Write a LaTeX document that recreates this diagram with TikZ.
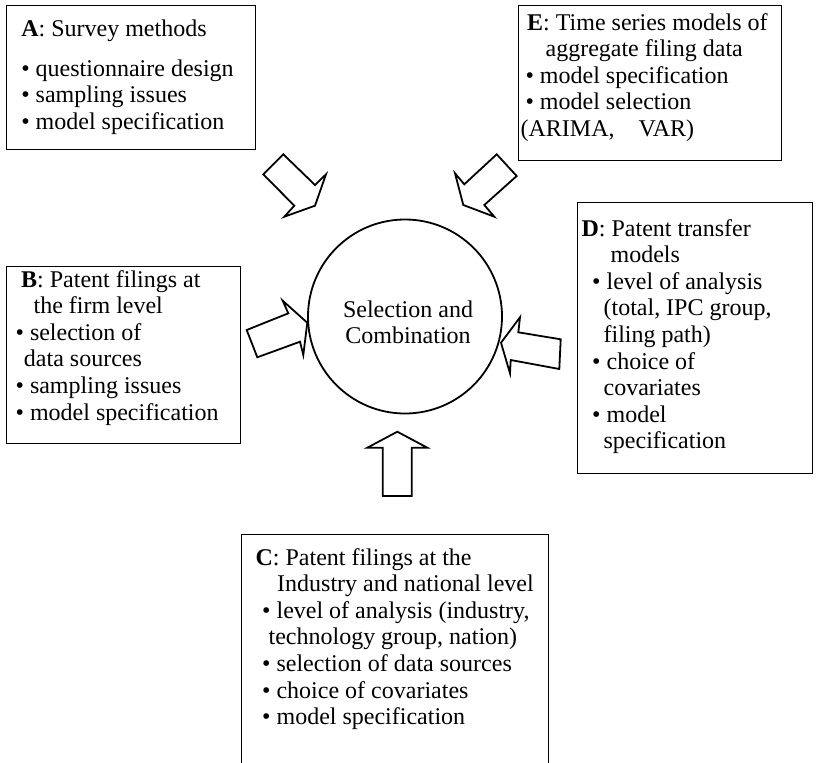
\documentclass[tikz,border=0pt]{standalone}
\usepackage{fontspec}
\setmainfont{Liberation Serif}
\usepackage{tikz}

\begin{document}
\begin{tikzpicture}[x=.5pt,y=-.5pt,line width=.6pt,font=\fontsize{12}{13.3}\selectfont,
  panel/.style={draw,rectangle,inner sep=0pt,anchor=north west},
  txt/.style={anchor=base west,align=left,inner sep=0pt},
  blk/.style={line width=.9pt,line join=miter}]
\useasboundingbox (0,0) rectangle (820,762);
% the five boxes (text nodes sit on the baseline of their last line)
\node[panel,minimum width=124.5pt,minimum height=72pt] (A) at (6,5) {};
\node[panel,minimum width=117pt,minimum height=88.5pt] (B) at (6,266) {};
\node[panel,minimum width=153.5pt,minimum height=133pt] (C) at (241,534) {};
\node[panel,minimum width=117.5pt,minimum height=135.5pt] (D) at (577,202) {};
\node[panel,minimum width=131.5pt,minimum height=77.5pt] (E) at (518,5) {};
\node[txt] (Atxt) at ([shift={(14.7,124.2)}]A.north west) {\textbf{\large A}: Survey methods\\[6.7pt]
  \textbullet{} questionnaire design\\ \textbullet{} sampling issues\\ \textbullet{} model specification};
\node[txt] (Btxt) at ([shift={(9,154)}]B.north west) {\hspace*{2.8pt}\textbf{\large B}: Patent filings at\\
  \hspace*{9pt}the firm level\\ \textbullet{} selection of\\ \hspace*{4.2pt}data sources\\
  \textbullet{} sampling issues\\ \textbullet{} model specification};
\node[txt] (Ctxt) at ([shift={(14,190.6)}]C.north west) {\textbf{\large C}: Patent filings at the\\
  \hspace*{10.8pt}Industry and national level\\ \hspace*{3.3pt}\textbullet{} level of analysis (industry,\\
  \hspace*{6.5pt}technology group, nation)\\ \hspace*{3.3pt}\textbullet{} selection of data sources\\
  \hspace*{3.3pt}\textbullet{} choice of covariates\\ \hspace*{3.3pt}\textbullet{} model specification};
\node[txt] (Dtxt) at ([shift={(4,246.8)}]D.north west) {\textbf{\large D}: Patent transfer\\
  \hspace*{14.5pt}models\\ \hspace*{5.3pt}\textbullet{} level of analysis\\ \hspace*{11pt}(total, IPC group,\\
  \hspace*{11pt}filing path)\\ \hspace*{5.3pt}\textbullet{} choice of\\ \hspace*{11pt}covariates\\
  \hspace*{5.3pt}\textbullet{} model\\ \hspace*{11pt}specification};
\node[txt] (Etxt) at ([shift={(2,131.4)}]E.north west) {\hspace*{3.3pt}\textbf{\large E}: Time series models of\\
  \hspace*{12.5pt}aggregate filing data\\ \hspace*{2.5pt}\textbullet{} model specification\\
  \hspace*{2.5pt}\textbullet{} model selection\\ (ARIMA,\quad VAR)};
% centre
\node[draw,circle,line width=.9pt,minimum size=97pt,inner sep=0pt] (sel) at (405,316.5) {};
\node[anchor=base,align=center,inner sep=0pt] (seltxt) at (408,343.6) {Selection and\\Combination};
% block arrows
\draw[blk] (263.3,174.3)--(283.3,154.3)--(315,185)--(326,174.3)--(315,205.7)--(284.3,216.7)--(294.3,205.7)--cycle;
\draw[blk] (496.7,154.3)--(516.7,176)--(484.3,205)--(494.3,216.7)--(463.3,205)--(455,173.3)--(464.3,184.3)--cycle;
\draw[blk] (246.7,330)--(288.3,313.3)--(282.7,300.7)--(307.3,322.7)--(303.3,355)--(300,341.7)--(257.3,357.3)--cycle;
\draw[blk] (560.7,339.3)--(518.3,332.3)--(520,317.3)--(501,342.7)--(510,373.3)--(510.7,360)--(559.3,369)--cycle;
\draw[blk] (382.7,496)--(382.7,447.7)--(367.3,447.7)--(397.3,431.7)--(427.3,447.7)--(411.7,447.7)--(411.7,496)--cycle;
\end{tikzpicture}
\end{document}
